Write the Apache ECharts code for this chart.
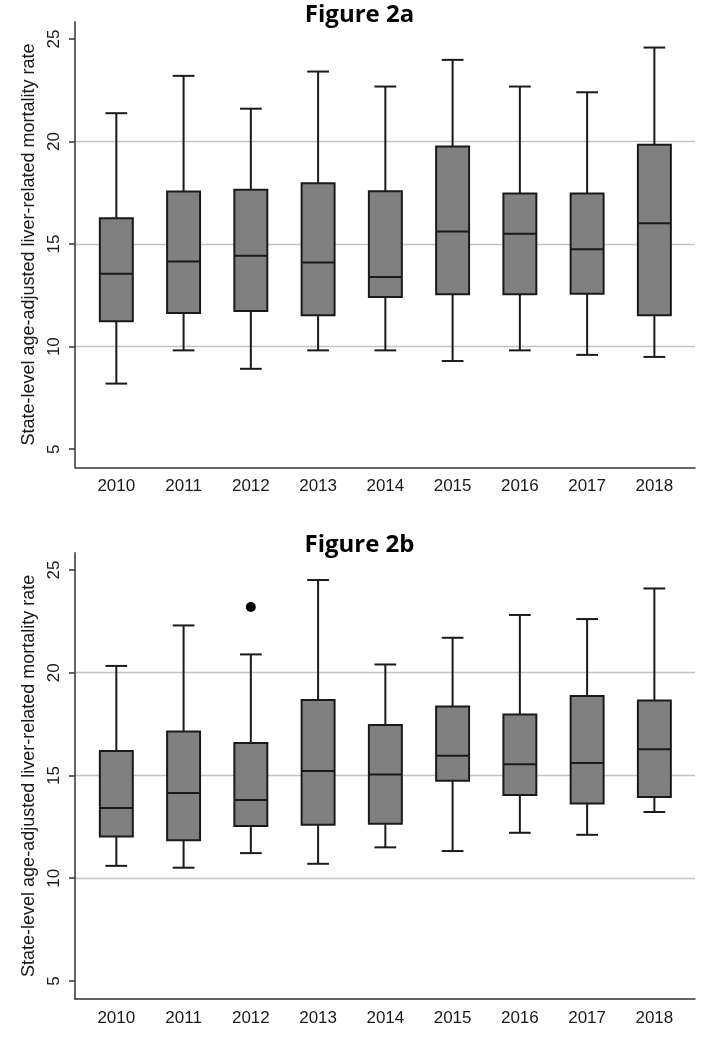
<!DOCTYPE html>
<html><head><meta charset="utf-8">
<script src="https://cdn.jsdelivr.net/npm/echarts@6/dist/echarts.min.js"></script>
<style>html,body{margin:0;padding:0;background:#fff}#c{width:719px;height:1050px}</style>
</head><body><div id="c"></div>
<script>
const years = ['2010','2011','2012','2013','2014','2015','2016','2017','2018'];
const yTicks = [5, 10, 15, 20, 25];
const titleA = 'Figure 2a';
const titleB = 'Figure 2b';
const yTitle = 'State-level age-adjusted liver-related mortality rate';

// Figure 2a
const a_low  = [8.2, 9.82, 8.92, 9.82, 9.82, 9.3, 9.82, 9.6, 9.5];
const a_q1   = [11.24, 11.64, 11.74, 11.53, 12.42, 12.55, 12.55, 12.58, 11.53];
const a_med  = [13.55, 14.15, 14.43, 14.1, 13.4, 15.61, 15.5, 14.75, 16.02];
const a_q3   = [16.26, 17.56, 17.65, 17.96, 17.57, 19.76, 17.46, 17.46, 19.84];
const a_high = [21.38, 23.2, 21.6, 23.41, 22.68, 23.98, 22.68, 22.4, 24.58];

// Figure 2b
const b_low  = [10.6, 10.51, 11.22, 10.7, 11.5, 11.32, 12.21, 12.11, 13.22];
const b_q1   = [12.03, 11.84, 12.54, 12.6, 12.65, 14.74, 14.05, 13.64, 13.95];
const b_med  = [13.41, 14.14, 13.8, 15.21, 15.05, 15.96, 15.55, 15.6, 16.27];
const b_q3   = [16.19, 17.14, 16.58, 18.67, 17.45, 18.36, 17.97, 18.87, 18.65];
const b_high = [20.33, 22.3, 20.89, 24.51, 20.4, 21.7, 22.81, 22.61, 24.1];
const b_outYears = ['2012'];
const b_outVals  = [23.2];

const Y_MIN = 4.12, Y_MAX = 25.84;
const FONT = '"Liberation Sans", Arial, sans-serif';
const DARK = '#1a1a1a';

function rows(low, q1, med, q3, high) {
  return years.map((y, i) => [i, low[i], q1[i], med[i], q3[i], high[i]]);
}

function renderBox(params, api) {
  const i = api.value(0);
  const pLow = api.coord([i, api.value(1)]);
  const pQ1 = api.coord([i, api.value(2)]);
  const pMed = api.coord([i, api.value(3)]);
  const pQ3 = api.coord([i, api.value(4)]);
  const pHigh = api.coord([i, api.value(5)]);
  const cx = pMed[0];
  const w = api.size([1, 0])[0] * 0.49;
  const cw = w * 0.66;
  const ls = { stroke: DARK, lineWidth: 2 };
  return {
    type: 'group',
    children: [
      { type: 'line', shape: { x1: cx, y1: pHigh[1], x2: cx, y2: pQ3[1] }, style: ls },
      { type: 'line', shape: { x1: cx, y1: pQ1[1], x2: cx, y2: pLow[1] }, style: ls },
      { type: 'line', shape: { x1: cx - cw / 2, y1: pHigh[1], x2: cx + cw / 2, y2: pHigh[1] }, style: ls },
      { type: 'line', shape: { x1: cx - cw / 2, y1: pLow[1], x2: cx + cw / 2, y2: pLow[1] }, style: ls },
      { type: 'rect', shape: { x: cx - w / 2, y: pQ3[1], width: w, height: pQ1[1] - pQ3[1] },
        style: { fill: '#808080', stroke: DARK, lineWidth: 2 } },
      { type: 'line', shape: { x1: cx - w / 2, y1: pMed[1], x2: cx + w / 2, y2: pMed[1] }, style: ls }
    ]
  };
}

function frameY(gi) {
  return {
    gridIndex: gi, type: 'value', min: Y_MIN, max: Y_MAX,
    name: yTitle, nameLocation: 'middle', nameGap: 29,
    nameTextStyle: { fontSize: 18, color: DARK, fontFamily: FONT },
    axisLine: { show: true, lineStyle: { color: '#333', width: 1.5 } },
    axisTick: { show: true, length: 6, customValues: yTicks, lineStyle: { color: '#333', width: 1.5 } },
    axisLabel: { rotate: 90, customValues: yTicks, fontSize: 17, color: DARK, fontFamily: FONT, margin: 12 },
    splitLine: { show: true, showMinLine: false, showMaxLine: false, lineStyle: { color: '#c4c4c4', width: 1.3 } }
  };
}
function frameX(gi) {
  return {
    gridIndex: gi, type: 'value', min: 0, max: 1,
    axisLine: { show: true, onZero: false, lineStyle: { color: '#333', width: 1.5 } },
    axisTick: { show: false }, axisLabel: { show: false }, splitLine: { show: false }
  };
}
function dataX(gi) {
  return {
    gridIndex: gi, type: 'category', data: years,
    axisLine: { show: false }, axisTick: { show: false },
    axisLabel: { fontSize: 17, color: DARK, fontFamily: FONT, margin: 11 },
    splitLine: { show: false }
  };
}
function dataY(gi) {
  return { gridIndex: gi, type: 'value', min: Y_MIN, max: Y_MAX, show: false, splitLine: { show: false } };
}

const chart = echarts.init(document.getElementById('c'), null, { renderer: 'canvas' });
chart.setOption({
  backgroundColor: '#fff',
  animation: false,
  title: [
    { text: titleA, left: 'center', top: -2,
      textStyle: { fontSize: 24, fontWeight: 'bold', color: '#000', fontFamily: '"Open Sans", sans-serif' } },
    { text: titleB, left: 'center', top: 528,
      textStyle: { fontSize: 24, fontWeight: 'bold', color: '#000', fontFamily: '"Open Sans", sans-serif' } }
  ],
  grid: [
    { left: 75, right: 24, top: 21.7, height: 445.6 },
    { left: 82.7, right: 31, top: 21.7, height: 445.6 },
    { left: 75, right: 24, top: 552.7, height: 446.3 },
    { left: 82.7, right: 31, top: 552.7, height: 446.3 }
  ],
  xAxis: [frameX(0), dataX(1), frameX(2), dataX(3)],
  yAxis: [frameY(0), dataY(1), frameY(2), dataY(3)],
  series: [
    { type: 'custom', xAxisIndex: 1, yAxisIndex: 1, renderItem: renderBox,
      encode: { x: 0, y: [1, 2, 3, 4, 5] }, data: rows(a_low, a_q1, a_med, a_q3, a_high) },
    { type: 'custom', xAxisIndex: 3, yAxisIndex: 3, renderItem: renderBox,
      encode: { x: 0, y: [1, 2, 3, 4, 5] }, data: rows(b_low, b_q1, b_med, b_q3, b_high) },
    { type: 'scatter', xAxisIndex: 3, yAxisIndex: 3, symbol: 'circle', symbolSize: 10,
      itemStyle: { color: '#000', opacity: 1 }, data: b_outYears.map((y, i) => [y, b_outVals[i]]) }
  ]
});
</script>
</body></html>
